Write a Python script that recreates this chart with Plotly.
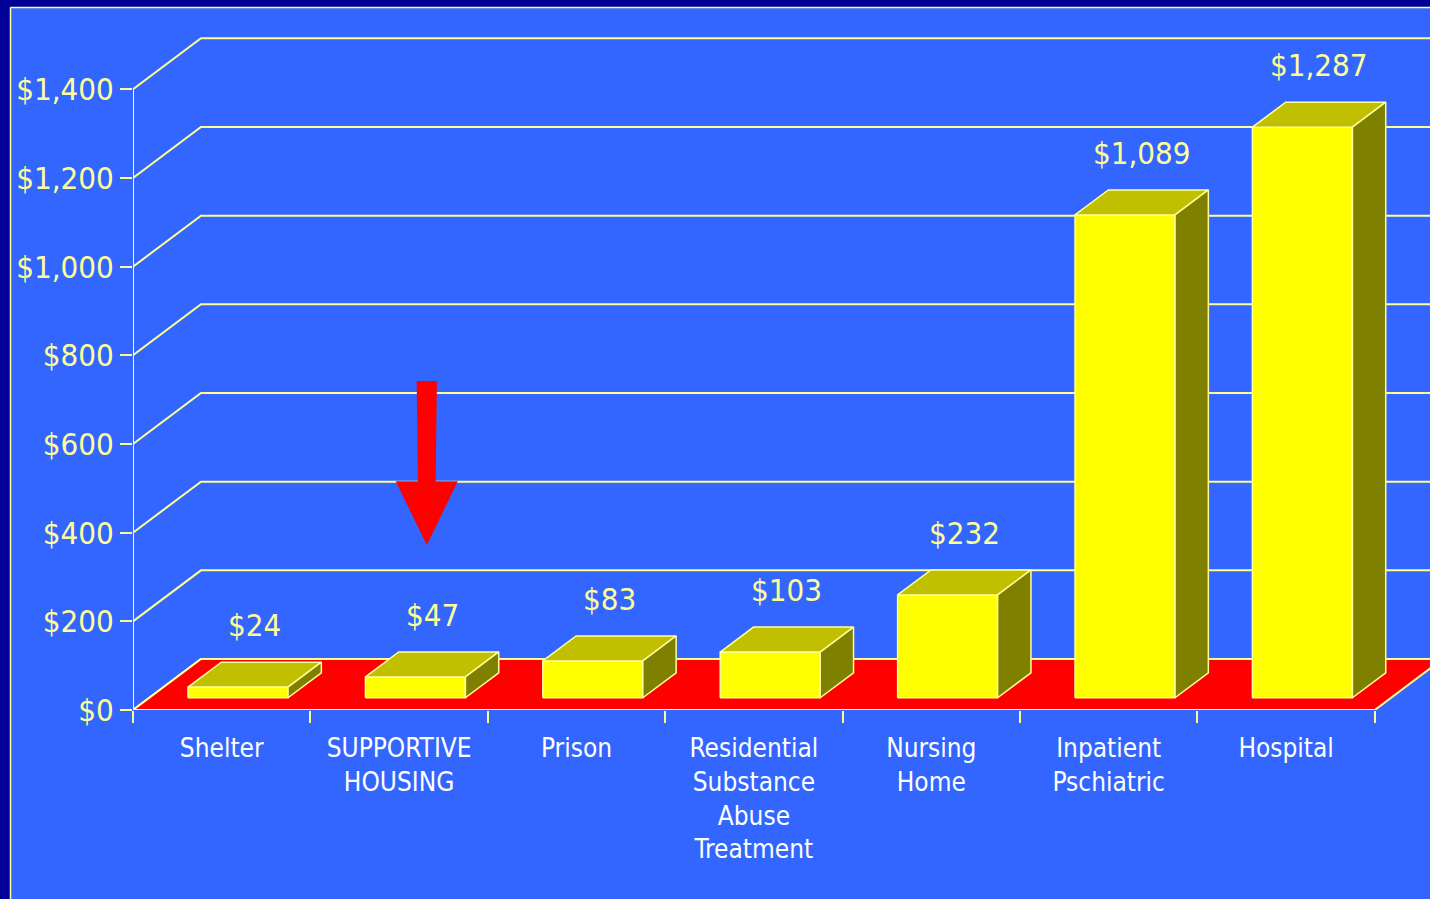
import plotly.graph_objects as go

# ---------------- data ----------------
categories = ["Shelter", "SUPPORTIVE<br>HOUSING", "Prison",
              "Residential<br>Substance<br>Abuse<br>Treatment",
              "Nursing<br>Home", "Inpatient<br>Pschiatric", "Hospital"]
values = [24, 47, 83, 103, 232, 1089, 1287]
value_labels = ["$24", "$47", "$83", "$103", "$232", "$1,089", "$1,287"]
y_tick_values = [0, 200, 400, 600, 800, 1000, 1200, 1400]
y_tick_labels = ["$0", "$200", "$400", "$600", "$800", "$1,000", "$1,200", "$1,400"]
highlight_index = 1  # the arrow points at SUPPORTIVE HOUSING

# ---------------- geometry / style ----------------
W, H = 1430, 899
ML, MB = 133, 189
PX_PER_CAT = 177.4
PX_PER_DOLLAR = 88.67 / 200
X0 = -0.5
XMAX = X0 + (W - ML) / PX_PER_CAT
YMAX = (H - MB) / PX_PER_DOLLAR
DX = 68 / PX_PER_CAT          # depth offset in category units
DY = 51 / PX_PER_DOLLAR       # depth offset in dollar units
F0, F1 = 0.24, 0.73           # bar depth placement (fraction of floor depth)
BAR_W = 100 / PX_PER_CAT

BLUE = "#3366FF"
NAVY = "#000099"
PALE = "#FFFF99"
FRONT = "#FFFF00"
TOP = "#C0C000"
SIDE = "#808000"
RED = "#FF0000"
FONT = "Liberation Sans Narrow, Arial Narrow, DejaVu Sans Condensed, Liberation Sans, sans-serif"

fig = go.Figure()

# back-wall gridlines with side-wall diagonals
gx, gy = [], []
for v in y_tick_values:
    gx += [X0, X0 + DX, XMAX + 1, None]
    gy += [v, v + DY, v + DY, None]
fig.add_trace(go.Scatter(x=gx, y=gy, mode="lines",
                         line=dict(color=PALE, width=2), hoverinfo="skip"))

# front vertical axis line
fig.add_trace(go.Scatter(x=[X0, X0], y=[0, max(y_tick_values)], mode="lines",
                         line=dict(color=PALE, width=2), hoverinfo="skip"))

# red floor
n = len(categories)
fig.add_trace(go.Scatter(x=[X0, X0 + n, X0 + n + DX, X0 + DX, X0],
                         y=[0, 0, DY, DY, 0], mode="lines", fill="toself",
                         fillcolor=RED, line=dict(color=PALE, width=2),
                         hoverinfo="skip"))

# 3D bars
ddx = (F1 - F0) * DX
ddy = (F1 - F0) * DY
for i, v in enumerate(values):
    cx = i + F0 * DX
    xl, xr = cx - BAR_W / 2, cx + BAR_W / 2
    yb = F0 * DY
    yt = yb + v
    faces = [
        ([xl, xr, xr, xl, xl], [yb, yb, yt, yt, yb], FRONT),
        ([xl, xr, xr + ddx, xl + ddx, xl], [yt, yt, yt + ddy, yt + ddy, yt], TOP),
        ([xr, xr + ddx, xr + ddx, xr, xr], [yb, yb + ddy, yt + ddy, yt, yb], SIDE),
    ]
    for fx, fy, col in faces:
        fig.add_trace(go.Scatter(x=fx, y=fy, mode="lines", fill="toself",
                                 fillcolor=col, line=dict(color=PALE, width=1.5),
                                 hoverinfo="skip"))
    fig.add_annotation(x=i + (F0 + F1) / 2 * DX, y=v + F1 * DY, yshift=37,
                       text=value_labels[i], showarrow=False, yanchor="middle",
                       font=dict(family=FONT, size=31, color=PALE))

# red arrow pointing at the highlighted category
ax_c = highlight_index + 0.156
tip_y, head_y, shaft_top = 372, 516, 742
hw, sw_top, sw_bot = 0.175, 0.057, 0.05
fig.add_trace(go.Scatter(
    x=[ax_c - sw_top, ax_c + sw_top, ax_c + sw_bot, ax_c + hw, ax_c, ax_c - hw, ax_c - sw_bot, ax_c - sw_top],
    y=[shaft_top, shaft_top, head_y, head_y, tip_y, head_y, head_y, shaft_top],
    mode="lines", fill="toself", fillcolor=RED, line=dict(color=RED, width=0),
    hoverinfo="skip"))

# frame (navy border with pale inner edge)
def px_x(p):
    return (p - ML) / (W - ML)

def px_y(p):
    return (H - MB - p) / (H - MB)

shapes = [
    dict(type="rect", xref="paper", yref="paper", x0=px_x(0), x1=px_x(W),
         y0=px_y(7), y1=px_y(0), fillcolor=NAVY, line=dict(width=0), layer="below"),
    dict(type="rect", xref="paper", yref="paper", x0=px_x(0), x1=px_x(10),
         y0=px_y(H), y1=px_y(0), fillcolor=NAVY, line=dict(width=0), layer="below"),
    dict(type="line", xref="paper", yref="paper", x0=px_x(10.5), x1=px_x(W),
         y0=px_y(7.5), y1=px_y(7.5), line=dict(color=PALE, width=1.5), layer="below"),
    dict(type="line", xref="paper", yref="paper", x0=px_x(10.5), x1=px_x(10.5),
         y0=px_y(H), y1=px_y(7.5), line=dict(color=PALE, width=1.5), layer="below"),
]

fig.update_layout(
    width=W, height=H, autosize=False,
    margin=dict(l=ML, r=0, t=0, b=MB, pad=0),
    paper_bgcolor=BLUE, plot_bgcolor="rgba(0,0,0,0)",
    showlegend=False, hovermode=False,
    shapes=shapes,
    xaxis=dict(range=[X0, XMAX], showgrid=False, zeroline=False, showline=False,
               tickmode="array", tickvals=list(range(n)), ticktext=categories,
               ticks="", tickfont=dict(family=FONT, size=26, color="#FFFFFF"),
               ticklabelstandoff=20,
               minor=dict(tickmode="array", tickvals=[X0 + k for k in range(n + 1)],
                          ticks="outside", ticklen=12, tickwidth=2, tickcolor=PALE,
                          showgrid=False),
               fixedrange=True),
    yaxis=dict(range=[0, YMAX], showgrid=False, zeroline=False, showline=False,
               tickmode="array", tickvals=y_tick_values, ticktext=y_tick_labels,
               ticks="outside", ticklen=12, tickwidth=2, tickcolor=PALE,
               tickfont=dict(family=FONT, size=31, color=PALE),
               ticklabelstandoff=0, fixedrange=True),
)

fig.write_html("out.html")
